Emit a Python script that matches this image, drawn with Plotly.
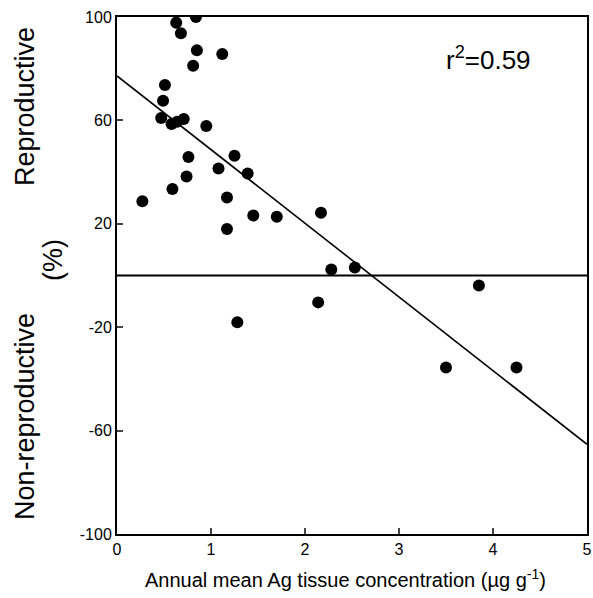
import plotly.graph_objects as go

# Data
ag_conc = [0.84, 0.63, 0.68, 0.85, 1.12, 0.81, 0.51, 0.49, 0.47, 0.58, 0.64, 0.71, 0.95,
           0.76, 1.25, 1.08, 0.74, 1.39, 0.59, 0.27, 1.17, 1.45, 1.17,
           2.17, 1.70, 2.28, 2.53, 2.14, 1.28,
           3.85, 3.50, 4.25]
repro_pct = [100, 97.8, 93.7, 87.1, 85.7, 81.1, 73.7, 67.6, 60.9, 58.6, 59.5, 60.5, 57.8,
             45.8, 46.3, 41.4, 38.3, 39.5, 33.5, 28.7, 30.2, 23.2, 18.0,
             24.3, 22.7, 2.3, 3.1, -10.4, -18.1,
             -3.9, -35.6, -35.6]
fit_x = [0, 5]
fit_y = [77.2, -65.3]
zero_x = [0, 5]
zero_y = [0, 0]
x_ticks = [0, 1, 2, 3, 4, 5]
x_ticktext = ["0", "1", "2", "3", "4", "5"]
y_ticks = [-100, -60, -20, 20, 60, 100]
y_ticktext = ["-100", "-60", "-20", "20", "60", "100"]

FONT = "Liberation Sans, Arial, sans-serif"
W, H = 593, 598
# on-screen plot box: x 117..587, y 17..534
L, T = 117, 17
R = W - 587
B = H - 534

fig = go.Figure()
fig.add_trace(go.Scatter(x=zero_x, y=zero_y, mode="lines",
                         line=dict(color="black", width=2), showlegend=False))
fig.add_trace(go.Scatter(x=fit_x, y=fit_y, mode="lines",
                         line=dict(color="black", width=1.6), showlegend=False))
fig.add_trace(go.Scatter(x=ag_conc, y=repro_pct, mode="markers",
                         marker=dict(color="black", size=12), showlegend=False))

pw, ph = W - L - R, H - T - B


def px2paper(px, py):
    return (px - L) / pw, 1 - (py - T) / ph


side = []
for text, px, py in [("Reproductive", 25, 107), ("Non-reproductive", 25, 417), ("(%)", 53, 260)]:
    xp, yp = px2paper(px, py)
    side.append(dict(text=text, x=xp, y=yp, xref="paper", yref="paper", showarrow=False,
                     textangle=-90, font=dict(size=27), xanchor="center", yanchor="middle"))
xt, yt = px2paper(345, 578)
side.append(dict(text="Annual mean Ag tissue concentration (µg g<sup>-1</sup>)", x=xt, y=yt,
                 xref="paper", yref="paper", showarrow=False, font=dict(size=20),
                 xanchor="center", yanchor="middle"))

fig.update_layout(
    width=W, height=H,
    margin=dict(l=L, r=R, t=T, b=B, autoexpand=False),
    paper_bgcolor="white", plot_bgcolor="white",
    font=dict(family=FONT, color="black"),
    hovermode=False,
    xaxis=dict(range=[0, 5], tickvals=x_ticks, ticktext=x_ticktext, ticks="inside",
               ticklen=6, tickwidth=1.5, automargin=False,
               showline=True, linecolor="black", linewidth=2, mirror=True,
               showgrid=False, zeroline=False, tickfont=dict(size=16)),
    yaxis=dict(range=[-100, 100], tickvals=y_ticks, ticktext=y_ticktext, ticks="inside",
               ticklen=6, tickwidth=1.5, automargin=False,
               showline=True, linecolor="black", linewidth=2, mirror=True,
               showgrid=False, zeroline=False, tickfont=dict(size=16)),
    annotations=[
        dict(text="r<sup>2</sup>=0.59", x=3.95, y=84, xref="x", yref="y",
             showarrow=False, font=dict(size=26), xanchor="center", yanchor="middle"),
    ] + side,
)

fig.write_html(
    "out.html",
    config={"displayModeBar": False},
    post_script="document.body.style.margin='0';document.body.style.overflow='hidden';",
)
